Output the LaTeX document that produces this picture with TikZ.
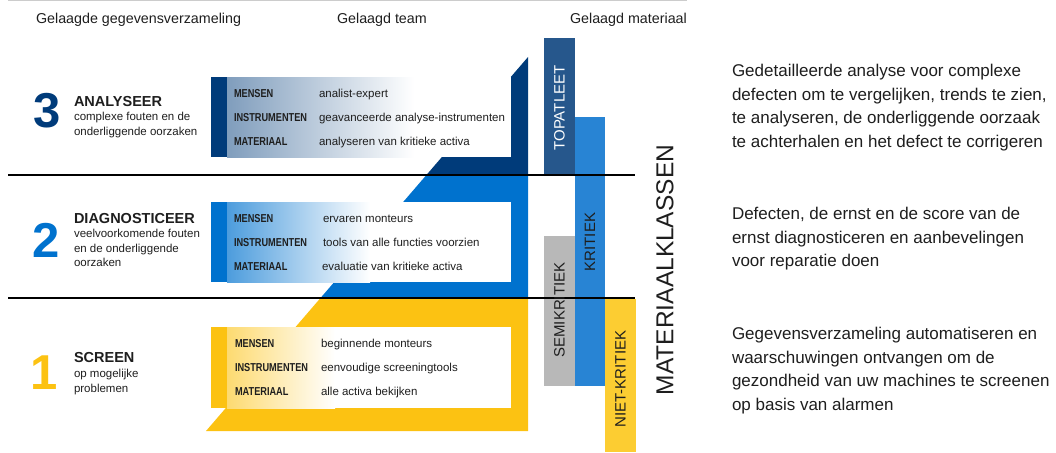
\documentclass[tikz,border=0pt]{standalone}
\usepackage{fontspec}
\setmainfont{Liberation Sans}
\newfontfamily\condfont[FakeStretch=0.8]{Liberation Sans}
\usetikzlibrary{positioning}

\definecolor{navy}{RGB}{0,59,122}
\definecolor{midblue}{RGB}{0,114,206}
\definecolor{amber}{RGB}{252,194,18}
\definecolor{topbar}{RGB}{38,87,140}
\definecolor{kritbar}{RGB}{40,132,212}
\definecolor{semibar}{RGB}{184,184,184}
\definecolor{nietbar}{RGB}{252,205,50}
\definecolor{ink}{RGB}{30,30,30}

\begin{document}
\begin{tikzpicture}[x=1pt, y=-1pt,
        every node/.style={text=ink, inner sep=0pt, outer sep=0pt},
        header/.style={font=\fontsize{14.3}{16}\selectfont, anchor=base west},
        tiernum/.style={font=\fontsize{49}{49}\bfseries\selectfont, anchor=base},
        tiertitle/.style={font=\fontsize{14.5}{16}\bfseries\selectfont, anchor=base west},
        tiersub/.style={font=\fontsize{11.5}{14.5}\selectfont, align=left, anchor=north west},
        rowkey/.style={font=\condfont\fontsize{11.5}{13}\bfseries\selectfont, anchor=base west},
        rowval/.style={font=\fontsize{11.5}{13}\selectfont, anchor=base west},
        barlabel/.style={font=\fontsize{15}{16}\selectfont, rotate=90, anchor=center},
        note/.style={font=\fontsize{17}{23.5}\selectfont, align=left, anchor=north west}
    ]
    \useasboundingbox (0,0) rectangle (1056,452);

    % column headers
    \draw[gray!40, line width=1pt] (8,0.5) -- (687,0.5);
    \node[header] (hdata) at (36,24) {Gelaagde gegevensverzameling};
    \node[header] (hteam) at (337,24) {Gelaagd team};
    \node[header] (hmat)  at (570,24) {Gelaagd materiaal};

    % coloured wedge behind the boxes
    \begin{scope}
        \clip (206,431) -- (528,431) -- (528,57) -- cycle;
        \fill[navy]    (200,50)  rectangle (530,175);
        \fill[midblue] (200,175) rectangle (530,298);
        \fill[amber]   (200,298) rectangle (530,432);
    \end{scope}

    % tier boxes
    \fill[white] (211,77) rectangle (511,157);
    \shade[left color=navy!50, right color=white] (227,77) rectangle (414,157);
    \fill[navy] (211,77) rectangle (227,157);

    \fill[white] (211,202) rectangle (511,282);
    \shade[left color=midblue!70, right color=white] (227,202) rectangle (370,282);
    \fill[midblue] (211,202) rectangle (227,282);

    \fill[white] (211,327) rectangle (511,408);
    \shade[left color=amber!60, right color=white] (227,327) rectangle (335,408);
    \fill[amber] (211,327) rectangle (227,408);

    % material class bars
    \fill[topbar]  (544,38)  rectangle (575,175);
    \fill[semibar] (544,236) rectangle (575,386);
    \fill[kritbar] (575,117) rectangle (605,386);
    \fill[nietbar] (605,299) rectangle (636,452);

    % tier separators
    \draw[black, line width=1.2pt] (8,175) -- (635,175);
    \draw[black, line width=1.2pt] (8,298) -- (635,298);

    % tier 3
    \node[tiernum, text=navy] (n3) at (47,127) {3};
    \node[tiertitle] (t3) at (74,106) {ANALYSEER};
    \node[tiersub] (s3) at (74,112.4) {complexe fouten en de\\onderliggende oorzaken};
    \node[rowkey] (k3a) at (234,97)  {MENSEN};
    \node[rowkey] (k3b) at (234,121) {INSTRUMENTEN};
    \node[rowkey] (k3c) at (234,145) {MATERIAAL};
    \node[rowval] (v3a) at (319,97)  {analist-expert};
    \node[rowval] (v3b) at (319,121) {geavanceerde analyse-instrumenten};
    \node[rowval] (v3c) at (319,145) {analyseren van kritieke activa};

    % tier 2
    \node[tiernum, text=midblue] (n2) at (46,257) {2};
    \node[tiertitle] (t2) at (74,223) {DIAGNOSTICEER};
    \node[tiersub] (s2) at (74,229.4) {veelvoorkomende fouten\\en de onderliggende\\oorzaken};
    \node[rowkey] (k2a) at (234,222) {MENSEN};
    \node[rowkey] (k2b) at (234,246) {INSTRUMENTEN};
    \node[rowkey] (k2c) at (234,270) {MATERIAAL};
    \node[rowval] (v2a) at (323,222) {ervaren monteurs};
    \node[rowval] (v2b) at (323,246) {tools van alle functies voorzien};
    \node[rowval] (v2c) at (322,270) {evaluatie van kritieke activa};

    % tier 1
    \node[tiernum, text=amber] (n1) at (44,389) {1};
    \node[tiertitle] (t1) at (74,362) {SCREEN};
    \node[tiersub, font=\fontsize{11.5}{15}\selectfont] (s1) at (74,369.4) {op mogelijke\\problemen};
    \node[rowkey] (k1a) at (235,347) {MENSEN};
    \node[rowkey] (k1b) at (235,371) {INSTRUMENTEN};
    \node[rowkey] (k1c) at (235,395) {MATERIAAL};
    \node[rowval] (v1a) at (321,347) {beginnende monteurs};
    \node[rowval] (v1b) at (321,371) {eenvoudige screeningtools};
    \node[rowval] (v1c) at (321,395) {alle activa bekijken};

    % class labels
    \node[barlabel, text=white] (ctop)  at (559.5,108) {TOPATLEET};
    \node[barlabel] (ckrit) at (590,242) {KRITIEK};
    \node[barlabel] (csemi) at (559.5,310) {SEMIKRITIEK};
    \node[barlabel] (cniet) at (620.5,379) {NIET-KRITIEK};
    \node[font=\fontsize{24.5}{26}\selectfont, rotate=90] (klassen) at (665,270) {MATERIAALKLASSEN};

    % descriptions
    \node[note] (d3) at (732,64.5)  {Gedetailleerde analyse voor complexe\\defecten om te vergelijken, trends te zien,\\te analyseren, de onderliggende oorzaak\\te achterhalen en het defect te corrigeren};
    \node[note] (d2) at (732,207.5) {Defecten, de ernst en de score van de\\ernst diagnosticeren en aanbevelingen\\voor reparatie doen};
    \node[note] (d1) at (732,327.5) {Gegevensverzameling automatiseren en\\waarschuwingen ontvangen om de\\gezondheid van uw machines te screenen\\op basis van alarmen};
\end{tikzpicture}
\end{document}
